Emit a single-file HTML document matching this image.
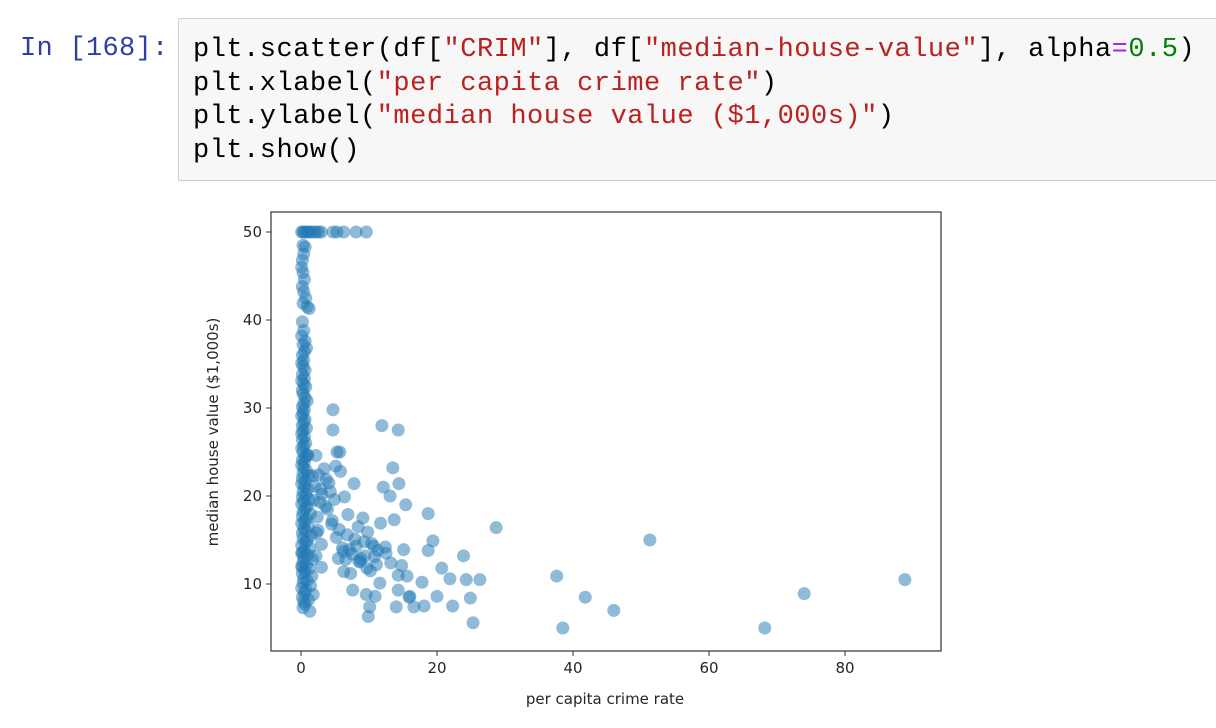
<!DOCTYPE html>
<html><head><meta charset="utf-8"><style>
body{margin:0;width:1216px;height:728px;background:#fff;position:relative;overflow:hidden;font-family:"Liberation Mono",monospace}
.prompt{position:absolute;left:20px;top:33px;font-size:27px;color:#303f9f;line-height:33px;letter-spacing:0.3px}
.cell{position:absolute;left:178px;top:18px;width:1050px;height:161px;background:#f7f7f7;border:1px solid #cfcfcf;border-radius:2px}
.code{position:absolute;left:14px;top:15px;font-size:27px;line-height:33.5px;color:#000;white-space:pre;letter-spacing:0.5px}
.s{color:#ba2121}.n{color:#008000}.o{color:#aa22ff}
</style></head><body>
<div class="prompt">In [168]:</div>
<div class="cell"><div class="code">plt.scatter(df[<span class="s">"CRIM"</span>], df[<span class="s">"median-house-value"</span>], alpha<span class="o">=</span><span class="n">0.5</span>)
plt.xlabel(<span class="s">"per capita crime rate"</span>)
plt.ylabel(<span class="s">"median house value ($1,000s)"</span>)
plt.show()</div></div>
<svg id="chart" width="1216" height="728" style="position:absolute;left:0;top:0" font-family="DejaVu Sans, sans-serif"></svg>
<script>
const xTicks=[0,20,40,60,80];
const yTicks=[10,20,30,40,50];
const outX=[
88.8,74,68.2,51.3,46,41.8,38.5,37.6,28.7,26.3,
25.3,24.9,24.3,23.9,22.3,21.9,20.7,20,19.4,18.7,
18.7,18.1,17.8,16.6,16,15.4,15.1,15.6,14.4,14.3,
14,14.3,14.3,13.5,13.1,13.7,11.9,12.1,11.6,10.1,
9.9,10.9,10.7,9.6,7.6,8.1,9.1,7.8,4.7,4.7,
5.3,5.7,4.7,5.3,6.3,8.1,9.6,12.5,13.2,14.8,
15.9,11.3,10.4,9.4,8.7,7.3,6.6,6.1,5.2,4.5,
3.9,3.1,2.6,2.2,9.8,8.4,7.9,6.9,6.2,5.6,
4.9,4.1,3.4,2.8,2.4,11.1,10.2,9.3,8.8,7.5,
6.8,6.4,5.8,5.1,4.3,3.6,3.0,2.5,2.0,12.4,
11.7,10.8,9.7,8.5,7.1,6.3,5.5,4.6,3.7,2.9,
2.3,1.9,1.7,3.0,2.2];
const outY=[
10.5,8.9,5,15,7,8.5,5,10.9,16.4,10.5,
5.6,8.4,10.5,13.2,7.5,10.6,11.8,8.6,14.9,13.8,
18,7.5,10.2,7.4,8.6,19,13.9,10.9,21.4,27.5,
7.4,11,9.3,23.2,20,17.3,28,21,10.1,7.4,
6.3,8.6,14.3,8.8,9.3,14.3,17.5,21.4,29.8,27.5,
25,25,50,50,50,50,50,13.5,12.4,12.1,
8.5,13.8,14.6,13.2,12.5,11.2,12.8,14.1,15.3,16.8,
18.5,20.2,22.4,24.6,15.9,16.5,15.1,17.9,13.7,16.2,
19.6,21.5,23.1,19.3,17.6,12.2,11.5,14.8,12.9,13.4,
15.6,19.9,22.8,23.4,20.5,18.8,14.5,16.1,21.1,14.2,
16.9,13.1,11.8,12.6,13.9,11.4,12.9,17.2,21.9,20.8,
15.8,19.5,22.3,11.9,13.2];
const colX=[
0.1,0.3,0.5,0.8,1.1,1.4,1.8,2.2,2.6,3.0,
0.3,0.6,0.4,0.2,0.1,0.3,0.5,0.2,0.4,0.7,
0.3,0.9,1.2,0.2,0.4,0.1,0.6,0.3,0.8,0.5,
0.2,0.4,0.1,0.3,0.6,0.2,0.5,0.1,0.4,0.7,
0.2,0.3,0.6,0.9,0.4,0.2,0.5,0.3,0.1,0.6,
0.4,0.2,0.8,0.3,0.1,0.5,0.2,0.7,0.4,0.1,
0.3,0.9,0.6,0.2,0.5,0.1,0.4,0.8,0.3,1.1,
0.2,0.6,0.1,0.5,1.0,0.3,0.7,0.2,1.2,0.4,
0.1,0.9,0.6,0.3,1.4,0.2,0.8,0.5,0.1,1.1,
0.4,0.7,0.2,1.5,0.3,0.9,0.6,0.1,1.3,0.5,
0.2,1.0,0.4,1.7,0.3,0.8,0.1,1.2,0.6,0.2,
1.6,0.4,0.9,0.3,1.4,0.1,0.7,0.5,1.8,0.2,
1.1,0.4,0.6,0.3,1.3,0.1,0.2,1.0];
const colY=[
50,50,50,50,50,50,50,50,50,50,
48.5,48.3,47.5,46.8,46,45.4,44.6,43.8,43.2,42.5,
41.9,41.5,41.3,39.8,38.8,38.2,37.6,37.2,36.8,36.4,
36.0,35.4,35.1,34.7,34.3,33.8,33.4,33.1,32.7,32.4,
32.0,31.6,31.2,30.8,30.5,30.1,29.8,29.4,29.1,28.7,
28.4,28.0,27.7,27.4,27.1,26.7,26.4,26.0,25.7,25.4,
25.0,24.7,24.4,24.1,23.8,23.5,23.2,22.9,22.6,22.3,
22.0,21.7,21.4,21.1,20.8,20.5,20.2,19.9,19.6,19.4,
19.1,18.8,18.5,18.2,18.0,17.7,17.4,17.1,16.9,16.6,
16.3,16.0,15.8,15.5,15.2,14.9,14.7,14.4,14.1,13.8,
13.6,13.3,13.0,12.8,12.5,12.2,12.0,11.7,11.4,11.2,
10.9,10.6,10.4,10.1,9.8,9.5,9.3,9.0,8.8,8.5,
8.2,8.0,7.7,7.3,6.9,13.5,11.9,24.6];
const NS='http://www.w3.org/2000/svg';
const svg=document.getElementById('chart');
const L=271,R=941,T=212,B=651;
const sx=v=>301+v*6.8, sy=v=>232+(50-v)*8.8;
function mk(tag,a){const e=document.createElementNS(NS,tag);for(const k in a)e.setAttribute(k,a[k]);svg.appendChild(e);return e;}
const frame=mk('rect',{x:L,y:T,width:R-L,height:B-T,fill:'#fff',stroke:'#333',"stroke-width":1.2});


const allX=colX.concat(outX), allY=colY.concat(outY);
const n=Math.min(allX.length,allY.length);
for(let i=0;i<n;i++){
  const c=mk('circle',{cx:sx(allX[i]),cy:sy(allY[i]),r:6.5,fill:'#1f77b4','fill-opacity':0.5});
  
  
}
xTicks.forEach(t=>{
  const ln=mk('line',{x1:sx(t),x2:sx(t),y1:B,y2:B+5,stroke:'#333'});
  
  
  const tx=mk('text',{x:sx(t),y:B+22,"text-anchor":'middle',"font-size":15,fill:'#262626'});
  tx.textContent=t;
  
  
});
yTicks.forEach(t=>{
  const ln=mk('line',{x1:L-5,x2:L,y1:sy(t),y2:sy(t),stroke:'#333'});
  
  
  const tx=mk('text',{x:L-9,y:sy(t)+5,"text-anchor":'end',"font-size":15,fill:'#262626'});
  tx.textContent=t;
  
  
});
const xl=mk('text',{x:605,y:704,"text-anchor":'middle',"font-size":15,fill:'#262626'});
xl.textContent='per capita crime rate';


const yl=mk('text',{x:0,y:0,"text-anchor":'middle',"font-size":15,fill:'#262626',transform:'translate(218,432) rotate(-90)'});
yl.textContent='median house value ($1,000s)';


</script>
</body></html>
